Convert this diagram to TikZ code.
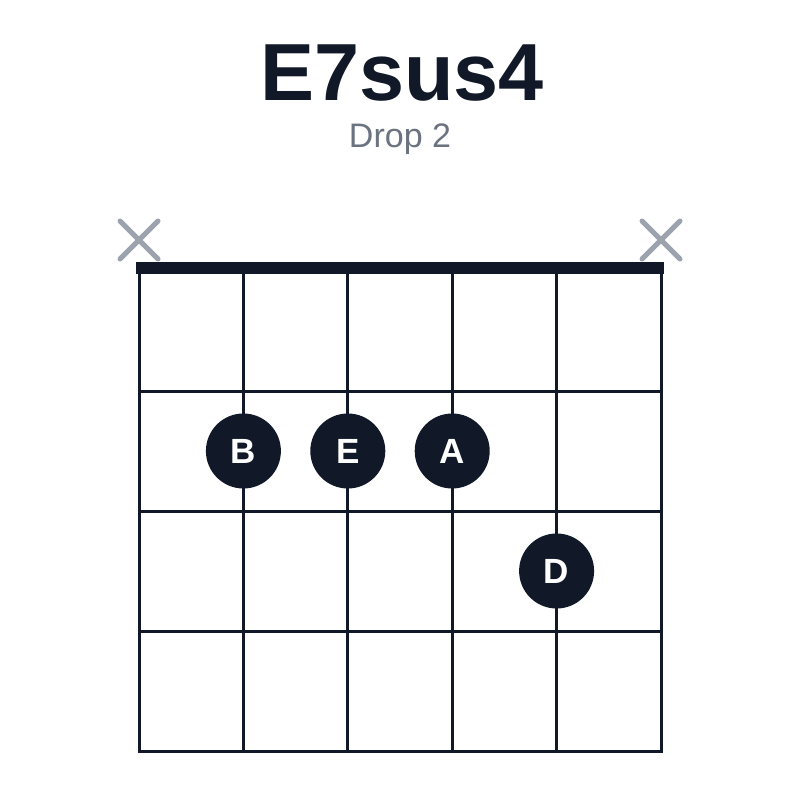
\documentclass[tikz,border=0pt]{standalone}
\usepackage{fontspec}
\setmainfont{Liberation Sans}
\usepackage{xcolor}
\definecolor{ink}{HTML}{111827}
\definecolor{mutegray}{HTML}{9CA3AF}
\definecolor{subgray}{HTML}{6B7280}
\usetikzlibrary{positioning}

\tikzset{
  gridline/.style={draw=ink, line width=3pt, line cap=rect},
  fingerdot/.style={circle, fill=ink, minimum size=75pt, inner sep=0pt, text=white, font=\fontsize{35}{35}\selectfont\bfseries},
  mutemark/.style={draw=mutegray, line width=5pt, line cap=round},
}

\begin{document}
\begin{tikzpicture}[x=1pt, y=-1pt]
    \useasboundingbox (0,0) rectangle (800,800);

    % Title
    \node[anchor=base, text=ink, font=\fontsize{81}{81}\selectfont\bfseries] (title) at (402,100) {E7sus4};
    \node[anchor=base, text=subgray, font=\fontsize{34}{34}\selectfont] (subtitle) at (400,147) {Drop 2};

    % Strings and frets
    \foreach \s in {0,...,5}
        \draw[gridline] (139+104.4*\s,268) -- (139+104.4*\s,751);
    \foreach \f in {1,...,4}
        \draw[gridline] (139,271+120*\f) -- (661,271+120*\f);
    % Nut
    \fill[ink] (136,262) rectangle (664,274);

    % Muted strings
    \coordinate (mute1) at (139,240);
    \coordinate (mute6) at (661,240);
    \draw[mutemark] ([shift={(-19,-19)}]mute1) -- ([shift={(19,19)}]mute1)
                    ([shift={(-19,19)}]mute1) -- ([shift={(19,-19)}]mute1);
    \draw[mutemark] ([shift={(-19,-19)}]mute6) -- ([shift={(19,19)}]mute6)
                    ([shift={(-19,19)}]mute6) -- ([shift={(19,-19)}]mute6);

    % Fingers
    \node[fingerdot] (noteB) at (243.4,451) {B};
    \node[fingerdot] (noteE) at (347.8,451) {E};
    \node[fingerdot] (noteA) at (452.2,451) {A};
    \node[fingerdot] (noteD) at (556.6,571) {D};
\end{tikzpicture}
\end{document}
